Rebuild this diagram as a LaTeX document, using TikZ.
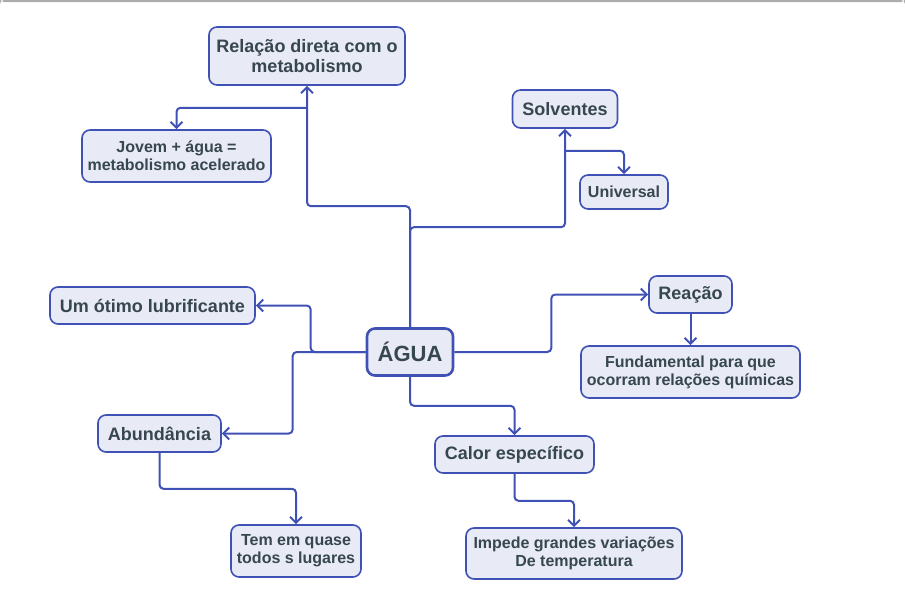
\documentclass[tikz,border=0pt]{standalone}
\usepackage{fontspec}
\setmainfont{Liberation Sans}
\usepackage{tikz}
\usetikzlibrary{arrows.meta}
\usetikzlibrary{positioning}

\definecolor{edgeblue}{HTML}{3F51B5}
\definecolor{boxfill}{HTML}{E8EAF6}
\definecolor{ink}{HTML}{37474F}

\begin{document}
\begin{tikzpicture}[->,>={Straight Barb[length=6pt,width=12pt]},on grid,
                    line width=2pt,draw=edgeblue,rounded corners=4pt,
                    main node/.style={draw=edgeblue,fill=boxfill,text=ink,rounded corners=8pt,
                      line width=1.6pt,align=center,inner sep=0pt,minimum height=38pt,
                      font=\bfseries\fontsize{18}{20}\selectfont},
                    sub node/.style={main node,minimum height=34pt,
                      font=\bfseries\fontsize{16}{18}\selectfont},
                    root node/.style={main node,line width=2.6pt,minimum height=47pt,
                      font=\bfseries\fontsize{22}{26}\selectfont}]

        \useasboundingbox (0,0) rectangle (905pt,-608pt);
        \fill[gray!65] (0,0) rectangle (905pt,-2pt);

        \node[root node,minimum width=86pt] (agua) at (410pt,-352pt) {ÁGUA};
        \node[main node,minimum width=196pt,minimum height=58pt] (rel) [above left=296pt and 103pt of agua] {Relação direta com o\\metabolismo};
        \node[sub node,minimum width=189pt,minimum height=52pt] (jovem) [below left=100pt and 130.5pt of rel] {Jovem + água =\\metabolismo acelerado};
        \node[main node,minimum width=105pt] (solv) [above right=243pt and 155pt of agua] {Solventes};
        \node[sub node,minimum width=88pt] (univ) [below right=83pt and 59pt of solv] {Universal};
        \node[main node,minimum width=205pt,minimum height=37pt] (lub) [above left=46.5pt and 257.5pt of agua] {Um ótimo lubrificante};
        \node[main node,minimum width=83pt,minimum height=37pt] (reac) [above right=57.5pt and 280.5pt of agua] {Reação};
        \node[sub node,minimum width=219pt,minimum height=52pt] (fund) [below=77.5pt of reac] {Fundamental para que\\ocorram relações químicas};
        \node[main node,minimum width=123pt,minimum height=37pt] (abund) [below left=81.5pt and 250.5pt of agua] {Abundância};
        \node[sub node,minimum width=130pt,minimum height=52pt] (tem) [below right=117.5pt and 136.5pt of abund] {Tem em quase\\todos s lugares};
        \node[main node,minimum width=159pt,minimum height=37pt] (calor) [below right=102.5pt and 104.5pt of agua] {Calor específico};
        \node[sub node,minimum width=216pt,minimum height=51pt] (imped) [below right=99pt and 59.5pt of calor] {Impede grandes variações\\De temperatura};

        \draw (agua.north) -- ++(0,121pt) -| (rel.south);
        \draw ([yshift=-22pt]rel.south) -| (jovem.north);
        \draw (agua.north) -- ++(0,100pt) -| (solv.south);
        \draw ([yshift=-22pt]solv.south) -| (univ.north);
        \draw (agua.west) -- ++(-55pt,0) |- (lub.east);
        \draw (agua.west) -- ++(-73pt,0) |- (abund.east);
        \draw (abund.south) -- ++(0,-36pt) -| (tem.north);
        \draw (agua.east) -- ++(97pt,0) |- (reac.west);
        \draw (reac.south) -- (fund.north);
        \draw (agua.south) -- ++(0,-29pt) -| (calor.north);
        \draw (calor.south) -- ++(0,-27pt) -| (imped.north);
    \end{tikzpicture}
\end{document}
